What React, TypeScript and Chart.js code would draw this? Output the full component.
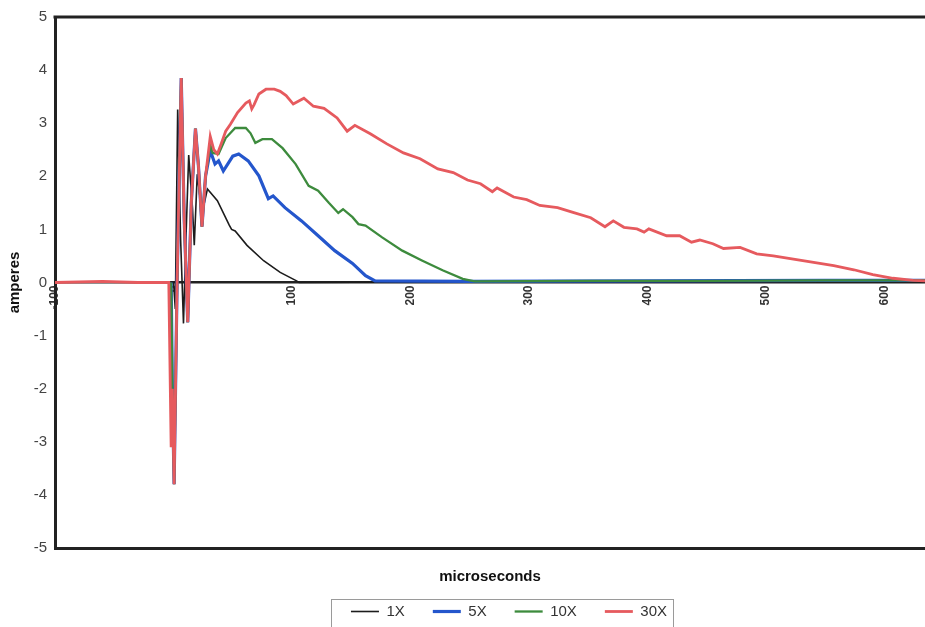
import React, { useEffect, useRef } from 'react';
import { Chart, registerables } from 'chart.js';

Chart.register(...registerables);

const FONT = "'Liberation Sans', Arial, sans-serif";

const seriesLabels = ['1X', '5X', '10X', '30X'];
const seriesColors = ['#1c1c1c', '#2456cc', '#3d8b3d', '#e65a5e'];

const xTickValues = [-100, 0, 100, 200, 300, 400, 500, 600];
const yTickValues = [-5, -4, -3, -2, -1, 0, 1, 2, 3, 4, 5];

const t1X = [-5, 0, 1.5, 3.5, 6, 8.4, 10, 12.8, 16, 17.5, 20, 24, 28.6, 37, 47, 49, 52, 62, 76, 90, 103, 106, 200, 400, 634];
const a1X = [0, 0, -0.5, 3.26, 0.8, -0.77, 0.5, 2.4, 1.4, 0.7, 2.04, 1.3, 1.76, 1.54, 1.08, 1.0, 0.97, 0.7, 0.41, 0.19, 0.04, 0, 0.01, 0.02, 0.02];

const t5X = [-2, -1, 0.5, 3, 6.5, 9, 12, 15, 18.5, 21, 24, 27, 31, 35, 38, 42, 50, 55, 63, 72, 80, 84, 94, 108, 122, 136, 151, 162, 170, 250, 400, 550, 634];
const a5X = [0, -2.0, -3.8, 0, 3.85, 1.2, -0.75, 1.5, 2.9, 2.2, 1.05, 2.0, 2.48, 2.23, 2.29, 2.1, 2.38, 2.42, 2.29, 2.01, 1.58, 1.63, 1.41, 1.16, 0.88, 0.6, 0.36, 0.13, 0.03, 0.02, 0.03, 0.04, 0.04];

const t10X = [-2, -1, 0.5, 3, 6.5, 9, 12, 15, 18.5, 21, 24, 27, 31, 33, 38, 44, 52, 61, 65, 69, 75, 83, 92, 103, 114, 122, 131, 139, 143, 151, 156, 162, 176, 193, 210, 227, 244, 254, 350, 450, 550, 634];
const a10X = [0, -2.0, -3.8, 0, 3.85, 1.2, -0.75, 1.5, 2.9, 2.2, 1.05, 2.0, 2.6, 2.44, 2.42, 2.72, 2.91, 2.91, 2.81, 2.63, 2.7, 2.7, 2.53, 2.23, 1.82, 1.73, 1.5, 1.31, 1.38, 1.23, 1.1, 1.07, 0.85, 0.6, 0.41, 0.23, 0.07, 0.02, 0.03, 0.03, 0.04, 0.04];

const t30X = [-100, -60, -30, -4, -2, -1, 0.5, 3, 6.5, 9, 12, 15, 18.5, 21, 24, 27, 31, 34, 37, 40, 44, 48, 54, 61, 64, 66, 68, 72, 78, 85, 90, 95, 101, 110, 118, 127, 138, 146.5, 153, 166, 180, 194, 208, 223, 236, 248, 259, 269, 273, 287, 298, 309, 324, 337, 352, 364, 371, 380, 391, 397, 401, 416, 427, 437, 444, 455, 464, 478, 492, 506, 523, 540, 557, 574, 590, 607, 624, 634];
const a30X = [0, 0.02, 0, 0, -3.1, -2.0, -3.8, 0, 3.85, 1.2, -0.75, 1.5, 2.9, 2.2, 1.05, 2.0, 2.75, 2.5, 2.42, 2.6, 2.85, 2.98, 3.2, 3.38, 3.42, 3.27, 3.35, 3.55, 3.64, 3.64, 3.6, 3.52, 3.36, 3.47, 3.32, 3.28, 3.1, 2.85, 2.96, 2.8, 2.61, 2.44, 2.33, 2.14, 2.07, 1.93, 1.86, 1.71, 1.78, 1.61, 1.56, 1.45, 1.41, 1.32, 1.22, 1.05, 1.16, 1.04, 1.01, 0.95, 1.01, 0.88, 0.88, 0.76, 0.8, 0.73, 0.64, 0.66, 0.54, 0.5, 0.44, 0.38, 0.32, 0.24, 0.15, 0.08, 0.04, 0.03];

const xMin = -100;
const xMax = 634;

const zip = (t: number[], a: number[]) => t.map((x, i) => ({ x, y: a[i] }));

export default function App() {
  const ref = useRef<HTMLCanvasElement>(null);

  useEffect(() => {
    if (!ref.current) return;

    const framePlugin = {
      id: 'frame',
      afterLayout(chart: any) {
        const lg = chart.legend;
        if (lg) {
          lg.left += 19;
          lg.right += 19;
        }
      },
      afterDatasetsDraw(chart: any) {
        const { ctx, chartArea } = chart;
        ctx.save();
        ctx.strokeStyle = '#222';
        ctx.lineWidth = 3;
        ctx.beginPath();
        ctx.moveTo(chartArea.left - 1.5, chartArea.top);
        ctx.lineTo(chartArea.right + 2, chartArea.top);
        ctx.stroke();
        ctx.restore();
      },
      afterDraw(chart: any) {
        const lg = chart.legend;
        if (!lg || !lg.legendHitBoxes || !lg.legendHitBoxes.length) return;
        const hb = lg.legendHitBoxes;
        const first = hb[0];
        const last = hb[hb.length - 1];
        const ctx = chart.ctx;
        ctx.save();
        ctx.strokeStyle = '#9a9a9a';
        ctx.lineWidth = 1;
        const left = first.left - 20;
        const right = last.left + last.width + 6;
        const top = first.top - 5;
        const bottom = chart.height + 2;
        ctx.strokeRect(Math.round(left) + 0.5, Math.round(top) + 0.5, Math.round(right - left), Math.round(bottom - top));
        ctx.restore();
      },
    };

    const drawOrder = [4, 3, 2, 1];
    const datasets = [
      { t: t1X, a: a1X, w: 1.6 },
      { t: t5X, a: a5X, w: 3.2 },
      { t: t10X, a: a10X, w: 2.3 },
      { t: t30X, a: a30X, w: 2.8 },
    ].map((d, i) => ({
      label: seriesLabels[i],
      data: zip(d.t, d.a),
      borderColor: seriesColors[i],
      backgroundColor: seriesColors[i],
      borderWidth: d.w,
      pointRadius: 0,
      tension: 0,
      order: drawOrder[i],
      xAxisID: 'x',
      yAxisID: 'y',
    }));

    const chart = new Chart(ref.current, {
      type: 'line',
      data: { datasets },
      plugins: [framePlugin],
      options: {
        animation: false,
        responsive: true,
        maintainAspectRatio: false,
        layout: { padding: { top: 15, right: 0, bottom: -2, left: 0 } },
        plugins: {
          tooltip: { enabled: false },
          legend: {
            position: 'bottom',
            fullSize: false,
            labels: {
              usePointStyle: true,
              pointStyle: 'line',
              pointStyleWidth: 28,
              padding: 28,
              color: '#333',
              font: { family: FONT, size: 15 },
              sort: (a: any, b: any) => a.datasetIndex - b.datasetIndex,
            },
          },
        },
        scales: {
          x: {
            type: 'linear',
            position: { y: 0 } as any,
            min: xMin,
            max: xMax,
            grid: { display: false, drawTicks: false },
            border: { display: true, color: '#222', width: 2.5 },
            afterBuildTicks: (s: any) => {
              s.ticks = xTickValues.map((v) => ({ value: v }));
            },
            ticks: {
              minRotation: 90,
              maxRotation: 90,
              color: '#333',
              padding: 3,
              font: { family: FONT, size: 12, weight: 'bold' },
            },
          },
          x2: {
            type: 'linear',
            position: 'bottom',
            min: xMin,
            max: xMax,
            grid: { display: false, drawTicks: false },
            border: { display: true, color: '#222', width: 3 },
            ticks: { display: false },
            title: {
              display: true,
              text: 'microseconds',
              color: '#111',
              font: { family: FONT, size: 15, weight: 'bold' },
              padding: { top: 20, bottom: -10 },
            },
          },
          y: {
            type: 'linear',
            position: 'left',
            min: -5,
            max: 5,
            grid: { display: false, drawTicks: false },
            border: { display: true, color: '#222', width: 3 },
            afterBuildTicks: (s: any) => {
              s.ticks = yTickValues.map((v) => ({ value: v }));
            },
            afterFit: (s: any) => {
              s.width = 55;
            },
            ticks: {
              color: '#444',
              padding: 8,
              font: { family: FONT, size: 15 },
            },
            title: {
              display: true,
              text: 'amperes',
              color: '#111',
              font: { family: FONT, size: 15, weight: 'bold' },
              padding: { top: 6, bottom: 0 },
            },
          },
        },
      },
    });

    return () => chart.destroy();
  }, []);

  return (
    <div style={{ position: 'fixed', left: 0, top: 0, width: 925, height: 627, background: '#fff' }}>
      <canvas ref={ref} />
    </div>
  );
}
